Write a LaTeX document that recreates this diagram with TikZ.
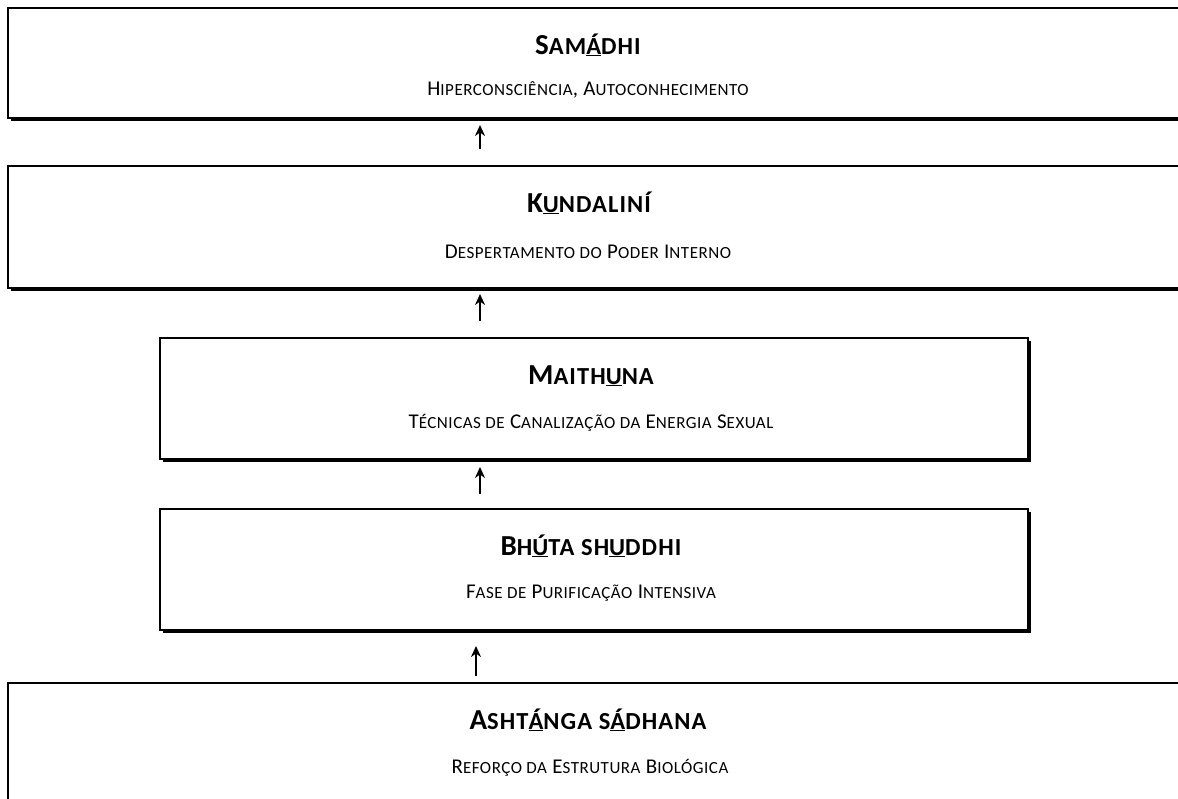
\documentclass[tikz,border=0pt]{standalone}
\usepackage{fontspec}
\setmainfont{Carlito}
\newfontfamily\espacada[LetterSpace=3]{Carlito}
\newfontfamily\espacadat[LetterSpace=4.5]{Carlito}
\usetikzlibrary{arrows.meta,shadows}

% versaletes feitos a mao
\newcommand{\pqt}[1]{{\fontsize{24.5}{28}\selectfont #1}}
\newcommand{\pqs}[1]{{\fontsize{17}{19}\selectfont #1}}
\newcommand{\sublinha}[1]{\underline{#1}}

\begin{document}
\begin{tikzpicture}[x=1pt,y=-1pt,
  caixa/.style={draw,line width=2pt,fill=white,rectangle,inner sep=0pt,
    general shadow={fill=black,shadow xshift=2.5pt,shadow yshift=-2.5pt}},
  titulo/.style={anchor=base,inner sep=0pt,font=\espacadat\bfseries\fontsize{29}{32}\selectfont},
  subtitulo/.style={anchor=base,inner sep=0pt,font=\espacada\fontsize{21}{23}\selectfont},
  seta/.style={line width=2.8pt,-{Stealth[length=11pt,width=10pt]}}]
\useasboundingbox (0,0) rectangle (1178,798);
\clip (0,0) rectangle (1178,798);

% caixas
\node[caixa,minimum width=1192pt,minimum height=110pt] (samadhi) at (604,63) {};
\node[caixa,minimum width=1192pt,minimum height=122pt] (kundalini) at (604,227) {};
\node[caixa,minimum width=868pt,minimum height=121pt] (maithuna) at (594,398.5) {};
\node[caixa,minimum width=868pt,minimum height=121pt] (bhuta) at (594,569.5) {};
\node[caixa,minimum width=1192pt,minimum height=167pt] (ashtanga) at (604,766.5) {};

% textos
\node[titulo] (samadhi-t) at (588,54) {S\pqt{AM\sublinha{Á}DHI}};
\node[subtitulo] (samadhi-s) at (588,95) {H\pqs{IPERCONSCIÊNCIA}, A\pqs{UTOCONHECIMENTO}};
\node[titulo] (kundalini-t) at (589,212) {K\pqt{\sublinha{U}NDALINÍ}};
\node[subtitulo] (kundalini-s) at (588,258) {D\pqs{ESPERTAMENTO DO} P\pqs{ODER} I\pqs{NTERNO}};
\node[titulo] (maithuna-t) at (591,384) {M\pqt{AITH\sublinha{U}NA}};
\node[subtitulo] (maithuna-s) at (591,428) {T\pqs{ÉCNICAS DE} C\pqs{ANALIZAÇÃO DA} E\pqs{NERGIA} S\pqs{EXUAL}};
\node[titulo] (bhuta-t) at (591,555) {B\pqt{H\sublinha{Ú}TA SH\sublinha{U}DDHI}};
\node[subtitulo] (bhuta-s) at (591,598) {F\pqs{ASE DE} P\pqs{URIFICAÇÃO} I\pqs{NTENSIVA}};
\node[titulo] (ashtanga-t) at (588,729) {A\pqt{SHT\sublinha{Á}NGA S\sublinha{Á}DHANA}};
\node[subtitulo] (ashtanga-s) at (590,773) {R\pqs{EFORÇO DA} E\pqs{STRUTURA} B\pqs{IOLÓGICA}};

% setas
\draw[seta,shorten <=16pt,shorten >=6pt] (kundalini.north -| 480,0) -- (samadhi.south -| 480,0);
\draw[seta,shorten <=16pt,shorten >=5pt] (maithuna.north -| 480,0) -- (kundalini.south -| 480,0);
\draw[seta,shorten <=14pt,shorten >=7pt] (bhuta.north -| 480,0) -- (maithuna.south -| 480,0);
\draw[seta,shorten <=6pt,shorten >=15pt] (ashtanga.north -| 476,0) -- (bhuta.south -| 476,0);
\end{tikzpicture}
\end{document}
